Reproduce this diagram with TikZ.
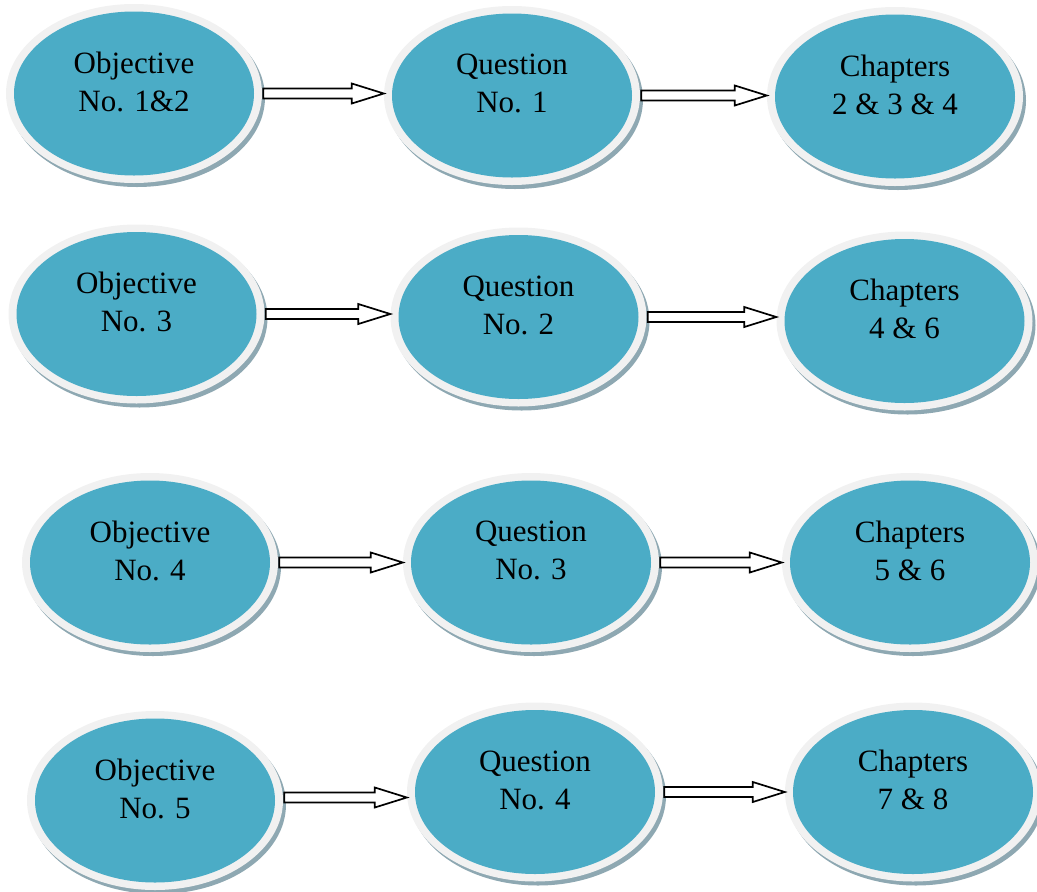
\documentclass[tikz,border=0pt]{standalone}
\usepackage{fontspec}
\setmainfont{Liberation Serif}
\usetikzlibrary{shapes.geometric,shadows,calc}

\definecolor{rim}{HTML}{F1F1F1}
\definecolor{core}{HTML}{4BACC6}
\definecolor{shade}{HTML}{8EA8B2}

\tikzset{
  bubble/.style={ellipse, minimum width=256pt, minimum height=179pt, inner sep=0pt,
    fill=rim,
    drop shadow={shadow xshift=3pt, shadow yshift=-4pt, fill=shade, opacity=1},
    path picture={\fill[core] (path picture bounding box.center)
      ellipse [x radius=120pt, y radius=82pt];}},
  caption/.style={align=center, inner sep=0pt, font=\fontsize{31}{38}\selectfont},
  flow/.style={draw=black, fill=white, line width=1.7pt, line join=miter},
}

% hollow block arrow from the right side of one bubble to the left side of the next
\newcommand\flowarrow[3][0pt]{%
  \draw[flow] let \p1=([xshift=1pt,yshift=#1]#2.east), \p2=(#3.west) in
    (\x1,\y1+5pt) -- (\x2-32pt,\y1+5pt) -- (\x2-32pt,\y1+10pt) -- (\x2,\y1)
    -- (\x2-32pt,\y1-10pt) -- (\x2-32pt,\y1-5pt) -- (\x1,\y1-5pt) -- cycle;}

\begin{document}
\begin{tikzpicture}[x=1pt,y=-1pt]
\useasboundingbox (0,0) rectangle (1037,892);

% row 1
\node[bubble] (o1) at (134,93.5) {};
\node[bubble] (q1) at (512,95.5) {};
\node[bubble] (c1) at (895,96.5) {};
% row 2
\node[bubble] (o2) at (136.5,314) {};
\node[bubble] (q2) at (518.5,317) {};
\node[bubble] (c2) at (904.5,321) {};
% row 3
\node[bubble] (o3) at (150,562.5) {};
\node[bubble] (q3) at (531,562.5) {};
\node[bubble] (c3) at (910,562.5) {};
% row 4
\node[bubble] (o4) at (155,800.5) {};
\node[bubble] (q4) at (535,792) {};
\node[bubble] (c4) at (913,792) {};

% captions
\node[caption] at ([yshift=12pt]o1.center) {Objective\\No. 1\&2};
\node[caption] at ([yshift=12pt]q1.center) {Question\\No. 1};
\node[caption] at ([yshift=12pt]c1.center) {Chapters\\2 \& 3 \& 4};
\node[caption] at ([yshift=12pt]o2.center) {Objective\\No. 3};
\node[caption] at ([yshift=12pt]q2.center) {Question\\No. 2};
\node[caption] at ([yshift=12pt]c2.center) {Chapters\\4 \& 6};
\node[caption] at ([yshift=12pt]o3.center) {Objective\\No. 4};
\node[caption] at ([yshift=12pt]q3.center) {Question\\No. 3};
\node[caption] at ([yshift=12pt]c3.center) {Chapters\\5 \& 6};
\node[caption] at ([yshift=12pt]o4.center) {Objective\\No. 5};
\node[caption] at ([yshift=12pt]q4.center) {Question\\No. 4};
\node[caption] at ([yshift=12pt]c4.center) {Chapters\\7 \& 8};

% connectors
\flowarrow{o1}{q1}
\flowarrow{q1}{c1}
\flowarrow{o2}{q2}
\flowarrow{q2}{c2}
\flowarrow{o3}{q3}
\flowarrow{q3}{c3}
\flowarrow[3pt]{o4}{q4}
\flowarrow{q4}{c4}
\end{tikzpicture}
\end{document}
